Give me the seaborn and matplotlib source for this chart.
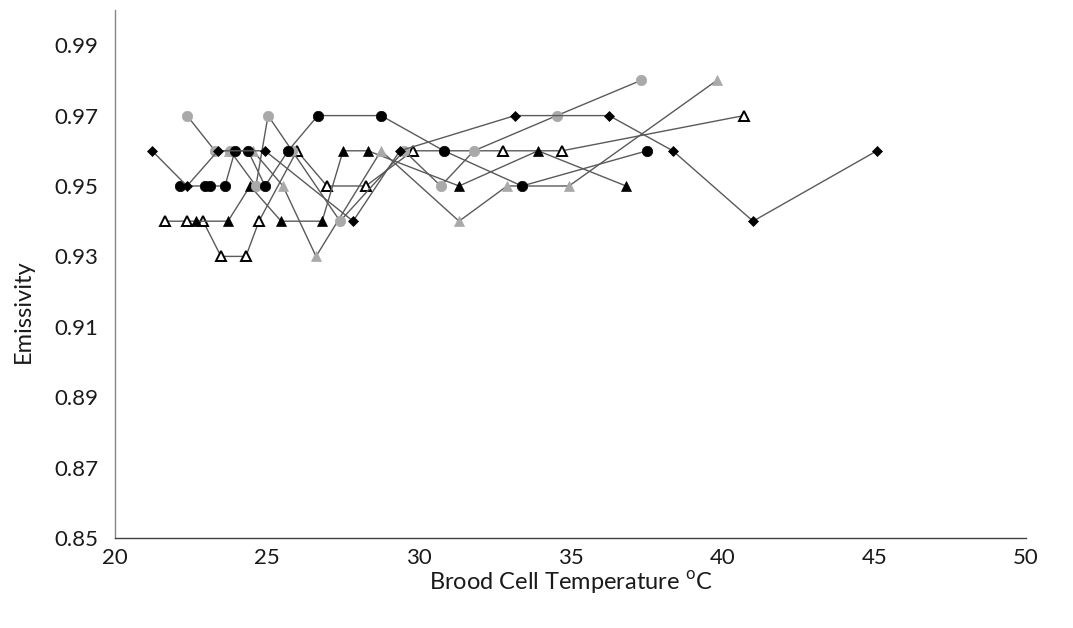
import matplotlib
matplotlib.use("Agg")
import matplotlib.pyplot as plt
import seaborn as sns
import pandas as pd

# ---- data ----
diamond_x = [21.22, 22.37, 23.39, 24.94, 27.84, 29.38, 33.17, 36.27, 38.37, 41.01, 45.09]
diamond_y = [0.96, 0.95, 0.96, 0.96, 0.94, 0.96, 0.97, 0.97, 0.96, 0.94, 0.96]

bcircle_x = [22.14, 22.96, 23.13, 23.62, 23.95, 24.38, 24.94, 25.70, 26.68, 28.76, 30.83, 33.40, 37.52]
bcircle_y = [0.95, 0.95, 0.95, 0.95, 0.96, 0.96, 0.95, 0.96, 0.97, 0.97, 0.96, 0.95, 0.96]

gcircle_x = [22.37, 23.29, 23.79, 24.64, 25.04, 25.83, 27.41, 29.52, 30.73, 31.82, 34.55, 37.32]
gcircle_y = [0.97, 0.96, 0.96, 0.95, 0.97, 0.96, 0.94, 0.96, 0.95, 0.96, 0.97, 0.98]

gtri_x = [23.75, 24.54, 25.53, 26.62, 28.76, 31.33, 32.91, 34.95, 39.82]
gtri_y = [0.96, 0.96, 0.95, 0.93, 0.96, 0.94, 0.95, 0.95, 0.98]

btri_x = [22.67, 23.72, 24.45, 25.47, 26.82, 27.51, 28.33, 31.33, 33.93, 36.83]
btri_y = [0.94, 0.94, 0.95, 0.94, 0.94, 0.96, 0.96, 0.95, 0.96, 0.95]

otri_x = [21.65, 22.37, 22.90, 23.49, 24.31, 24.74, 25.99, 26.98, 28.26, 29.81, 32.78, 34.72, 40.71]
otri_y = [0.94, 0.94, 0.94, 0.93, 0.93, 0.94, 0.96, 0.95, 0.95, 0.96, 0.96, 0.96, 0.97]

x_ticks = [20, 25, 30, 35, 40, 45, 50]
y_ticks = [0.85, 0.87, 0.89, 0.91, 0.93, 0.95, 0.97, 0.99]

# ---- styling ----
sns.set_style("white")
plt.rcParams["font.family"] = ["Lato", "DejaVu Sans"]

fig = plt.figure(figsize=(10.73, 6.28), dpi=100)
ax = fig.add_axes([0.1072, 0.1433, 0.8490, 0.8408])

LINE = "#5a5a5a"
GRAY = "#a9a9a9"

series = [
    (otri_x, otri_y, "^", "white", "black", 7.5, 1.4),
    (btri_x, btri_y, "^", "black", "black", 7.5, 0.5),
    (gtri_x, gtri_y, "^", GRAY, GRAY, 7.5, 0.5),
    (gcircle_x, gcircle_y, "o", GRAY, GRAY, 7.5, 0.5),
    (bcircle_x, bcircle_y, "o", "black", "black", 7.5, 0.5),
    (diamond_x, diamond_y, "D", "black", "black", 5.0, 0.5),
]

for xs, ys, mk, fc, ec, ms, mew in series:
    df = pd.DataFrame({"T": xs, "E": ys})
    sns.lineplot(data=df, x="T", y="E", ax=ax, estimator=None, sort=False,
                 color=LINE, linewidth=1.0, marker=mk, markersize=ms,
                 markerfacecolor=fc, markeredgecolor=ec, markeredgewidth=mew,
                 legend=False)

ax.set_xlim(20, 50)
ax.set_ylim(0.85, 1.0)
ax.set_xticks(x_ticks)
ax.set_yticks(y_ticks)
ax.set_xticklabels([str(v) for v in x_ticks])
ax.set_yticklabels([f"{v:.2f}" for v in y_ticks])

for s in ["top", "right"]:
    ax.spines[s].set_visible(False)
ax.spines["left"].set_color("#868686")
ax.spines["bottom"].set_color("#404040")
ax.spines["left"].set_linewidth(1.0)
ax.spines["bottom"].set_linewidth(1.0)

ax.tick_params(axis="both", direction="out", length=7, width=1.0,
               color="#868686", labelsize=16, labelcolor="#1a1a1a")
ax.tick_params(axis="y", pad=5)
ax.tick_params(axis="x", pad=0)

ax.set_xlabel("Brood Cell Temperature $^{\\mathregular{o}}$C", fontsize=17,
              color="#1a1a1a", labelpad=1)
ax.set_ylabel("Emissivity", fontsize=17, color="#1a1a1a")
ax.yaxis.set_label_coords(-0.089, 0.43)
ax.grid(False)

fig.savefig("out.png", dpi=100)
